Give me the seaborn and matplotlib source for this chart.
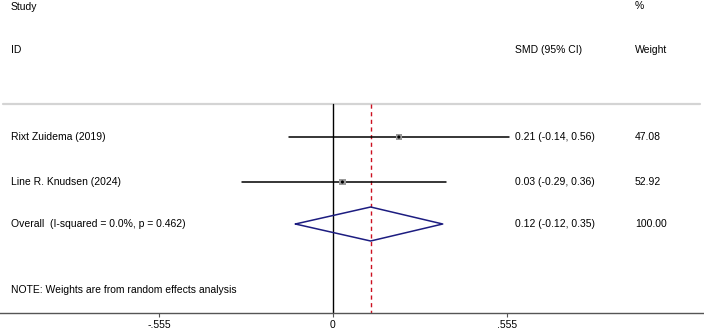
import matplotlib
matplotlib.use("Agg")
import matplotlib.pyplot as plt
import numpy as np
import pandas as pd
import seaborn as sns

# Dati del forest plot
studies = ["Rixt Zuidema (2019)", "Line R. Knudsen (2024)"]
smd = [0.21, 0.03]
ci_low = [-0.14, -0.29]
ci_high = [0.56, 0.36]
weights = [47.08, 52.92]

overall_label = "Overall  (I-squared = 0.0%, p = 0.462)"
overall_smd = 0.12
overall_low = -0.12
overall_high = 0.35
overall_weight = 100.00

tick_values = [-0.555, 0, 0.555]
tick_labels = ["-.555", "0", ".555"]
note = "NOTE: Weights are from random effects analysis"

sns.set_style("white")
plt.rcParams["font.family"] = ["Liberation Sans", "DejaVu Sans"]
plt.rcParams["text.color"] = "black"
plt.rcParams["xtick.labelcolor"] = "black"
FS = 7.5

W, H = 704, 332
axis_y = 312.7          # riga in pixel dell'asse x
unit = 313.5            # pixel per unità SMD
zero_px = 333


def px(x):
    """converte una colonna in pixel in coordinate dati"""
    return (x - zero_px) / unit


fig = plt.figure(figsize=(W / 100, H / 100), dpi=100)
ax = fig.add_axes([0, (H - axis_y) / H, 1, axis_y / H])
ax.set_xlim(px(0), px(W))
ax.set_ylim(axis_y, 0)

row_y = [137, 182]
overall_y = 224
top_line = 104

df = pd.DataFrame({"study": studies, "smd": smd, "lo": ci_low, "hi": ci_high,
                   "w": weights, "y": row_y})

# linee di riferimento
ax.plot([px(3), px(700)], [top_line, top_line], color="#d4d4d4", lw=1.6, zorder=1)
ax.plot([0, 0], [top_line, axis_y], color="black", lw=1.0, zorder=2)
ax.plot([overall_smd, overall_smd], [top_line, axis_y], color="#cc1020", lw=1.0,
        ls=(0, (3, 2.5)), zorder=2)

# intervalli di confidenza
for _, r in df.iterrows():
    ax.plot([r.lo, r.hi], [r.y, r.y], color="black", lw=1.1, zorder=3)

# quadrati pesati + punto
sns.scatterplot(data=df, x="smd", y="y", marker="s", s=df["w"] * 0.45, color="#9a9a9a",
                edgecolor="none", ax=ax, zorder=4, legend=False)
sns.scatterplot(data=df, x="smd", y="y", marker="o", s=5, color="black",
                edgecolor="none", ax=ax, zorder=5, legend=False)

# diamante complessivo
dh = 17
ax.plot([overall_low, overall_smd, overall_high, overall_smd, overall_low],
        [overall_y, overall_y - dh, overall_y, overall_y + dh, overall_y],
        color="#1c1c80", lw=1.1, zorder=4)

# testi
left = px(11)
col_ci = px(515)
col_w = px(635)
ax.text(left, 7, "Study", fontsize=FS, va="center")
ax.text(left, 50, "ID", fontsize=FS, va="center")
ax.text(col_w, 6, "%", fontsize=FS, va="center")
ax.text(col_ci, 50, "SMD (95% CI)", fontsize=FS, va="center")
ax.text(col_w, 50, "Weight", fontsize=FS, va="center")

for _, r in df.iterrows():
    ax.text(left, r.y, r.study, fontsize=FS, va="center")
    ax.text(col_ci, r.y, f"{r.smd:.2f} ({r.lo:.2f}, {r.hi:.2f})", fontsize=FS, va="center")
    ax.text(col_w, r.y, f"{r.w:.2f}", fontsize=FS, va="center")

ax.text(left, overall_y, overall_label, fontsize=FS, va="center")
ax.text(col_ci, overall_y, f"{overall_smd:.2f} ({overall_low:.2f}, {overall_high:.2f})",
        fontsize=FS, va="center")
ax.text(col_w, overall_y, f"{overall_weight:.2f}", fontsize=FS, va="center")
ax.text(left, 290, note, fontsize=FS, va="center")

# asse
for s in ["top", "left", "right"]:
    ax.spines[s].set_visible(False)
ax.spines["bottom"].set_color("#555555")
ax.spines["bottom"].set_linewidth(1.0)
ax.set_yticks([])
ax.set_xticks(tick_values)
ax.set_xticklabels(tick_labels, fontsize=FS)
ax.tick_params(axis="x", direction="out", length=3, width=0.8, color="#555555", pad=2.5,
               bottom=True)
ax.set_xlabel("")
ax.set_ylabel("")

fig.savefig("out.png", dpi=100, facecolor="white")
plt.close(fig)
